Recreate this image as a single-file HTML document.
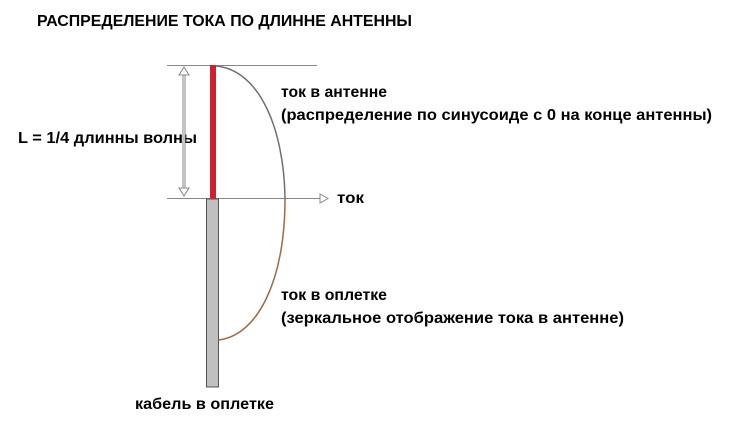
<!DOCTYPE html>
<html><head><style>
body{margin:0;width:731px;height:422px;background:#fff;overflow:hidden;font-family:"Liberation Sans","DejaVu Sans",sans-serif;}
</style></head><body>
<svg width="731" height="422" xmlns="http://www.w3.org/2000/svg" style="position:absolute;left:0;top:0">
<g font-family="Liberation Sans, DejaVu Sans, sans-serif" font-weight="bold" fill="#000" font-size="16">
<text x="37" y="26" textLength="375" lengthAdjust="spacingAndGlyphs">РАСПРЕДЕЛЕНИЕ ТОКА ПО ДЛИННЕ АНТЕННЫ</text>
<text x="281" y="97" textLength="106" lengthAdjust="spacingAndGlyphs">ток в антенне</text>
<text x="281" y="120" textLength="431" lengthAdjust="spacingAndGlyphs">(распределение по синусоиде с 0 на конце антенны)</text>
<text x="18" y="143" textLength="179" lengthAdjust="spacingAndGlyphs">L = 1/4 длинны волны</text>
<text x="337" y="203" textLength="27" lengthAdjust="spacingAndGlyphs">ток</text>
<text x="281" y="300" textLength="106" lengthAdjust="spacingAndGlyphs">ток в оплетке</text>
<text x="281" y="323" textLength="343" lengthAdjust="spacingAndGlyphs">(зеркальное отображение тока в антенне)</text>
<text x="135" y="409" textLength="139" lengthAdjust="spacingAndGlyphs">кабель в оплетке</text>
</g>
<line x1="167" y1="65.5" x2="317" y2="65.5" stroke="#888" stroke-width="1"/>
<line x1="167" y1="198.5" x2="320" y2="198.5" stroke="#888" stroke-width="1"/>
<polygon points="320,194 328,198.5 320,203" fill="#fff" stroke="#888"/>
<rect x="206.5" y="199" width="12" height="188" fill="#c0c0c0" stroke="#555" stroke-width="1"/>
<rect x="210" y="65" width="6" height="134" fill="#d02030"/>
<line x1="184" y1="70" x2="184" y2="193" stroke="#888" stroke-width="3"/>
<line x1="184" y1="70" x2="184" y2="193" stroke="#fff" stroke-width="1"/>
<polygon points="179,75 184,67 189,75" fill="#fff" stroke="#888"/>
<polygon points="179,188 184,196 189,188" fill="#fff" stroke="#888"/>
<path d="M216,66 C260,70 284,130 285,198" fill="none" stroke="#707070" stroke-width="1.5"/>
<path d="M285,198 C285,280 258,335 219,340" fill="none" stroke="#9a6a4a" stroke-width="1.5"/>
</svg>
</body></html>
